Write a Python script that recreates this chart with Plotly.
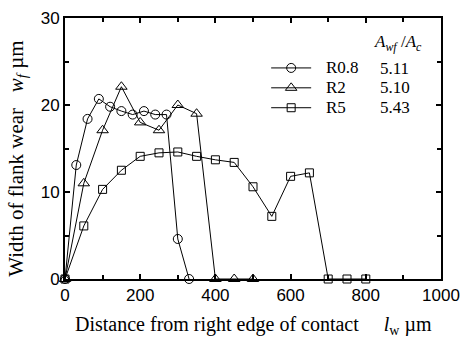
import plotly.graph_objects as go

x_r08 = [0, 30, 60, 90, 120, 150, 180, 210, 240, 270, 300, 330]
y_r08 = [0, 13.1, 18.4, 20.7, 19.8, 19.3, 18.9, 19.3, 18.9, 18.9, 4.6, 0]

x_r2 = [0, 50, 100, 150, 200, 250, 300, 350, 400, 450, 500]
y_r2 = [0, 11.0, 17.1, 22.1, 18.0, 17.1, 20.0, 19.0, 0, 0, 0]

x_r5 = [0, 50, 100, 150, 200, 250, 300, 350, 400, 450, 500, 550, 600, 650, 700, 750, 800]
y_r5 = [0, 6.1, 10.3, 12.5, 14.1, 14.5, 14.6, 14.1, 13.7, 13.4, 10.6, 7.2, 11.8, 12.2, 0, 0, 0]

names = ["R0.8", "R2", "R5"]
ratios = ["5.11", "5.10", "5.43"]
symbols = ["circle-open", "triangle-up-open", "square-open"]
sizes = [9, 10, 8]

serif = "Liberation Serif, Times New Roman, serif"

fig = go.Figure()
for xs, ys, nm, sym, sz in zip([x_r08, x_r2, x_r5], [y_r08, y_r2, y_r5], names, symbols, sizes):
    fig.add_trace(go.Scatter(
        x=xs, y=ys, mode="lines+markers",
        name="&nbsp;&nbsp;&nbsp;<span style='font-size:17px;font-family:Liberation Serif'>" + nm + "</span>",
        line=dict(color="black", width=1),
        marker=dict(symbol=sym, size=sz, color="black", line=dict(width=1, color="black")),
        cliponaxis=False,
    ))

axis_common = dict(
    showline=True, linecolor="black", linewidth=2, mirror="ticks",
    ticks="inside", ticklen=5, tickwidth=2, tickcolor="black",
    showgrid=False, zeroline=False, automargin=False,
    tickfont=dict(family="Liberation Sans, Arial", size=17, color="black"),
)

fig.update_xaxes(range=[0, 1000], dtick=200, tick0=0,
                 minor=dict(dtick=100, ticks="inside", ticklen=4, tickwidth=1.5, tickcolor="black"),
                 **axis_common)
fig.update_yaxes(range=[0, 30], dtick=10, tick0=0,
                 minor=dict(dtick=5, ticks="inside", ticklen=4, tickwidth=1.5, tickcolor="black"),
                 **axis_common)

annotations = [
    dict(text="Distance from right edge of contact&nbsp;&nbsp;&nbsp;&nbsp;&nbsp;<i>l</i><sub>w</sub> µm",
         xref="paper", yref="paper", x=0.5, y=-0.18, xanchor="center", yanchor="middle",
         showarrow=False, font=dict(family=serif, size=20, color="black")),
    dict(text="Width of flank wear&nbsp;&nbsp;&nbsp;<i>w<sub>f</sub></i> µm",
         xref="paper", yref="paper", x=-0.128, y=0.46, xanchor="center", yanchor="middle",
         textangle=-90, showarrow=False, font=dict(family=serif, size=21, color="black")),
    dict(text="<i>A<sub>wf</sub></i> /<i>A<sub>c</sub></i>",
         xref="paper", yref="paper", x=0.885, y=0.904, xanchor="center", yanchor="middle",
         showarrow=False, font=dict(family=serif, size=17, color="black")),
]
for i, r in enumerate(ratios):
    annotations.append(dict(text=r, xref="paper", yref="paper", x=0.877, y=0.808 - i * 0.075,
                            xanchor="center", yanchor="middle", showarrow=False,
                            font=dict(family=serif, size=17, color="black")))
fig.update_layout(
    width=475, height=338,
    margin=dict(l=65, r=34, t=18, b=59),
    paper_bgcolor="white", plot_bgcolor="white",
    showlegend=True,
    legend=dict(x=0.535, y=0.866, xanchor="left", yanchor="top",
                bgcolor="rgba(0,0,0,0)", tracegroupgap=0, itemwidth=40,
                font=dict(family=serif, size=13, color="black")),
    annotations=annotations,
)

fig.write_html("out.html", config={"displayModeBar": False},
               post_script="document.body.style.margin='0';")
